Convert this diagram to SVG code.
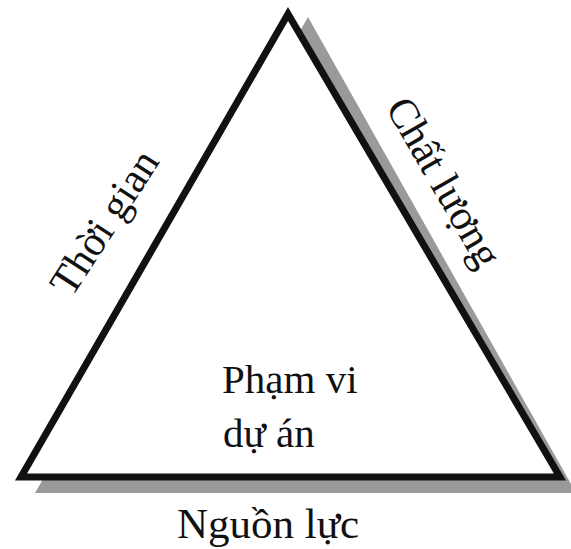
<svg xmlns="http://www.w3.org/2000/svg" width="571" height="549" viewBox="0 0 571 549">
  <style>
    .lbl { font-family: "Liberation Serif", "Times New Roman", serif; fill: #111; }
  </style>
  <rect width="571" height="549" fill="#ffffff"/>
  <g id="triangle">
    <polygon id="shadow" points="308,17 35,493 576,493" fill="#9a9a9a"/>
    <polygon id="outline" points="288,14 21,477 560,477" fill="#ffffff" stroke="#111111" stroke-width="7" stroke-linejoin="miter"/>
  </g>
  <g id="labels">
    <text class="lbl" font-size="42" text-anchor="middle" transform="translate(116,230) rotate(-57)">Thời gian</text>
    <text class="lbl" font-size="42" text-anchor="middle" transform="translate(432,189) rotate(60)">Chất lượng</text>
    <text class="lbl" font-size="41" x="222" y="393">Phạm vi</text>
    <text class="lbl" font-size="41" x="223" y="447">dự án</text>
    <text class="lbl" font-size="43" x="177" y="538">Nguồn lực</text>
  </g>
</svg>
